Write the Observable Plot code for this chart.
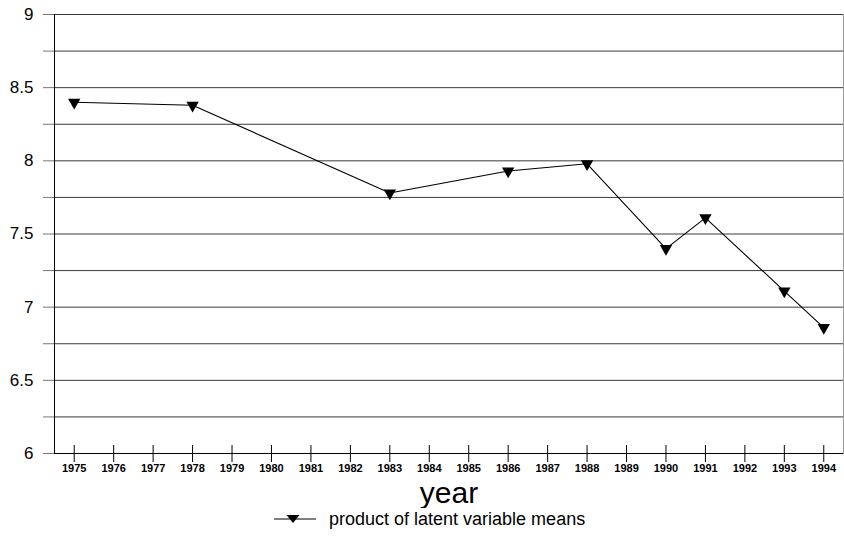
<!DOCTYPE html>
<html>
<head>
<meta charset="utf-8">
<script src="https://cdn.jsdelivr.net/npm/d3@7"></script>
<script src="https://cdn.jsdelivr.net/npm/@observablehq/plot@0.6"></script>
<style>
  html, body { margin: 0; padding: 0; background: #fff; }
  body { width: 844px; height: 548px; overflow: hidden; font-family: "Liberation Sans", Arial, sans-serif; }
  #legend { position: relative; height: 40px; }
  #legend svg { position: absolute; left: 274px; top: 1px; }
  #legend span { position: absolute; left: 329px; top: 0px; font-size: 18px; line-height: 22px; color: #000; }
</style>
</head>
<body>
<div id="chart"></div>
<div id="legend">
  <svg width="44" height="20"><line x1="0" y1="10" x2="42" y2="10" stroke="#000" stroke-width="1.2"></line><path d="M12.5,6 L25.5,6 L19,14 Z" fill="#000"></path></svg>
  <span>product of latent variable means</span>
</div>
<script>
const years = [1975, 1978, 1983, 1986, 1988, 1990, 1991, 1993, 1994];
const values = [8.40, 8.38, 7.78, 7.93, 7.98, 7.40, 7.61, 7.11, 6.86];
const xTicks = d3.range(1975, 1995);
const yLabelTicks = [6, 6.5, 7, 7.5, 8, 8.5, 9];
const yMinorTicks = [6, 6.25, 6.5, 6.75, 7, 7.25, 7.5, 7.75, 8, 8.25, 8.5, 8.75, 9];
const yGridTicks = [6.25, 6.5, 6.75, 7, 7.25, 7.5, 7.75, 8, 8.25, 8.5, 8.75, 9];
const seriesName = "product of latent variable means";

const data = years.map((year, i) => ({year, value: values[i]}));

const chart = Plot.plot({
  width: 844,
  height: 508,
  marginTop: 14,
  marginBottom: 55,
  marginLeft: 54,
  marginRight: 1,
  style: {fontFamily: "'Liberation Sans', Arial, sans-serif", background: "#fff", color: "#000"},
  x: {domain: [1974.5, 1994.5], label: null},
  y: {domain: [6, 9], label: null},
  marks: [
    Plot.gridY(yGridTicks, {stroke: "#3a3a3a", strokeOpacity: 1, strokeWidth: 1}),
    Plot.frame({anchor: "right", stroke: "#999"}),
    Plot.frame({anchor: "left", stroke: "#000"}),
    Plot.ruleY([6], {stroke: "#000", strokeWidth: 1.2}),
    Plot.axisY(yMinorTicks, {tickSize: 11, text: null, stroke: "#777", label: null}),
    Plot.axisY(yLabelTicks, {tickSize: 0, tickPadding: 21, fontSize: 17, label: null, tickFormat: d => String(d)}),
    Plot.axisX(xTicks, {tickSize: 17, dy: -8, text: null, stroke: "#000", label: null}),
    Plot.axisX(xTicks, {tickSize: 0, tickPadding: 11, fontSize: 11, fontWeight: "bold", label: null, tickFormat: d => String(d)}),
    Plot.text(["year"], {frameAnchor: "bottom", dy: 40, fontSize: 30, lineAnchor: "middle"}),
    Plot.line(data, {x: "year", y: "value", stroke: "#000", strokeWidth: 1.1}),
    Plot.dot(data, {x: "year", y: "value", symbol: "triangle", rotate: 180, r: 4.6, fill: "#000", stroke: "none"})
  ]
});
document.getElementById("chart").appendChild(chart);
</script>
</body>
</html>
